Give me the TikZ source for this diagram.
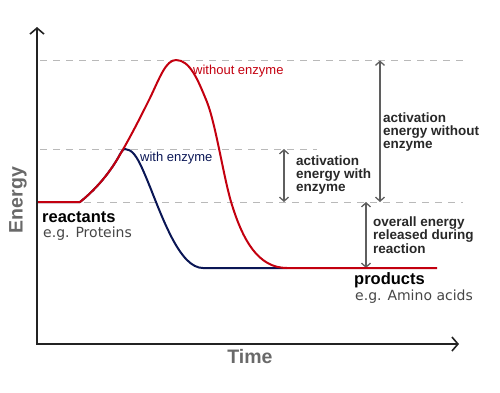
\documentclass[tikz,border=0pt]{standalone}
\usepackage{fontspec}
\setmainfont{Liberation Sans}
\newfontfamily\dvfont{DejaVu Sans}
\usetikzlibrary{arrows.meta}
\definecolor{redc}{RGB}{195,0,15}
\definecolor{navyc}{RGB}{10,22,85}
\definecolor{axisc}{RGB}{35,35,35}
\definecolor{dashc}{RGB}{185,185,185}
\definecolor{arrc}{RGB}{95,95,95}
\definecolor{txtc}{RGB}{40,40,40}
\definecolor{egc}{RGB}{70,70,70}
\definecolor{axlab}{RGB}{105,105,105}
\begin{document}
\begin{tikzpicture}[x=1pt,y=-1pt,
 axisline/.style={draw=axisc,line width=2pt,{Straight Barb[length=6pt,width=14pt,line width=1.6pt]}-{Straight Barb[length=6pt,width=14pt,line width=1.6pt]}},
 guide/.style={draw=dashc,line width=1pt,dash pattern=on 7pt off 6pt},
 measure/.style={draw=arrc,line width=1.3pt,{Straight Barb[length=4pt,width=9pt]}-{Straight Barb[length=4pt,width=9pt]}},
 curvered/.style={draw=redc,line width=2pt,line join=round},
 curveblue/.style={draw=navyc,line width=2pt,line join=round},
 note/.style={text=txtc,font=\bfseries\fontsize{13.5}{13.3}\selectfont,align=left,anchor=west,inner sep=0pt},
 curvelabel/.style={font=\fontsize{13}{13}\selectfont,anchor=west,inner sep=0pt},
 big/.style={text=black,font=\bfseries\fontsize{16.5}{16.5}\selectfont,anchor=west,inner sep=0pt},
 eg/.style={text=egc,font=\dvfont\fontsize{14}{14}\selectfont,anchor=west,inner sep=0pt},
 axl/.style={text=axlab,font=\bfseries\fontsize{19.5}{19.5}\selectfont,inner sep=0pt}
]
\useasboundingbox (0,0) rectangle (500,392);
% axes
\coordinate (O) at (37,344);
\coordinate (ytop) at (37,27);
\coordinate (xend) at (459,344);
% guide lines
\coordinate (d1a) at (40,60.5);  \coordinate (d1b) at (463,60.5);
\coordinate (d2a) at (40,149);   \coordinate (d2b) at (317,149);
\coordinate (d3a) at (84,202);   \coordinate (d3b) at (463,202);
\draw[guide] (d1a) -- (d1b);
\draw[guide] (d2a) -- (d2b);
\draw[guide] (d3a) -- (d3b);
% measure arrows
\coordinate (m1t) at (284,149); \coordinate (m1b) at (284,202);
\coordinate (m2t) at (380,60.5); \coordinate (m2b) at (380,202);
\coordinate (m3t) at (366,202); \coordinate (m3b) at (366,268);
\draw[measure] (m1t) -- (m1b);
\draw[measure] (m2t) -- (m2b);
\draw[measure] (m3t) -- (m3b);
% curves
\draw[curveblue] (37,202) -- (80,202) .. controls (95,190) and (108,175) .. (118,158)
  .. controls (121,152) and (123,149) .. (125,149)
  .. controls (132,149) and (137,157) .. (142,168)
  .. controls (152,190) and (160,215) .. (172,238)
  .. controls (182,257) and (192,268) .. (203,268) -- (287,268);
\draw[curvered] (37,202) -- (80,202) .. controls (95,190) and (108,175) .. (118,158)
  .. controls (130,138) and (140,118) .. (150,98)
  .. controls (160,77) and (166,60) .. (176,60)
  .. controls (190,60) and (198,80) .. (207,102)
  .. controls (216,125) and (224,180) .. (232,205)
  .. controls (243,240) and (258,268) .. (287,268) -- (437,268);
\draw[axisline] (ytop) -- (O) -- (xend);
% labels
\node[curvelabel,text=redc] (lblwo) at (193,71) {without enzyme};
\node[curvelabel,text=navyc] (lblw) at (140,158) {with enzyme};
\node[note] (aew) at (296,175) {activation\\energy with\\enzyme};
\node[note] (aewo) at (383,132) {activation\\energy without\\enzyme};
\node[note] (oer) at (373,235) {overall energy\\released during\\reaction};
\node[big] (react) at (42,217) {reactants};
\node[eg] (eg1) at (43,234) {e.g. Proteins};
\node[big] (prod) at (354,280) {products};
\node[eg] (eg2) at (355,297) {e.g. Amino acids};
\node[axl,rotate=90] (elab) at (18,200) {Energy};
\node[axl] (tlab) at (250,357) {Time};
\end{tikzpicture}
\end{document}
